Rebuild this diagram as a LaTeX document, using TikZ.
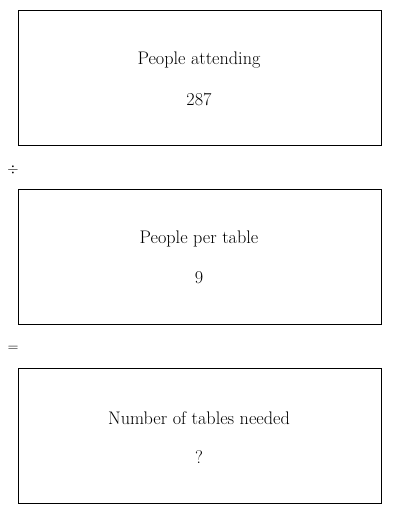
\documentclass[tikz,border=0pt]{standalone}
\begin{document}
\begin{tikzpicture}[x=1pt,y=-1pt,
  card/.style={draw=black,line width=1pt,minimum width=363pt,minimum height=135pt,anchor=north west,inner sep=0pt},
  lbl/.style={font=\fontsize{18.2}{21}\selectfont,anchor=center,inner sep=0pt},
  op/.style={font=\fontsize{14}{16}\selectfont,anchor=center,inner sep=0pt}]
\useasboundingbox (0,0) rectangle (400,514);
\node[card] (b1) at (18,10) {};
\node[card] (b2) at (18,189) {};
\node[card] (b3) at (18,368) {};
\node[lbl] (t1) at (199,60) {People attending};
\node[lbl] (v1) at (199,99) {287};
\node[lbl] (t2) at (199,239) {People per table};
\node[lbl] (v2) at (199,278) {9};
\node[lbl] (t3) at (199,418) {Number of tables needed};
\node[lbl] (v3) at (199,457) {?};
\node[op] (o1) at (13,170) {$\div$};
\node[op] (o2) at (13,349) {$=$};
\end{tikzpicture}
\end{document}
